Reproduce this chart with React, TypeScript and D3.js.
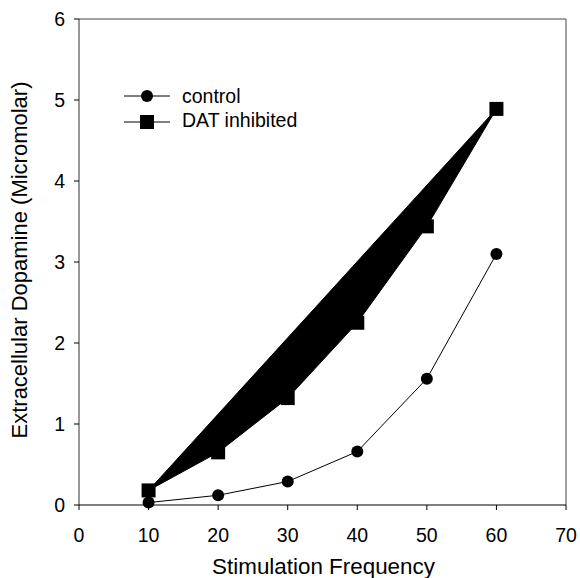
import React from "react";
import * as d3 from "d3";

const frequencies = [10, 20, 30, 40, 50, 60];
const controlValues = [0.03, 0.12, 0.29, 0.66, 1.56, 3.1];
const datValues = [0.18, 0.65, 1.32, 2.25, 3.44, 4.89];
const xTicks = [0, 10, 20, 30, 40, 50, 60, 70];
const yTicks = [0, 1, 2, 3, 4, 5, 6];
const seriesNames = ["control", "DAT inhibited"];

export default function App() {
  const W = 580, H = 578;
  const left = 79, right = 566, top = 19, bottom = 505;
  const x = d3.scaleLinear().domain([0, 70]).range([left, right]);
  const y = d3.scaleLinear().domain([0, 6]).range([bottom, top]);
  const font = "Liberation Sans, Arial, sans-serif";

  const ctrl = frequencies.map((f, i) => [f, controlValues[i]] as [number, number]);
  const dat = frequencies.map((f, i) => [f, datValues[i]] as [number, number]);
  const line = d3.line<[number, number]>().x(d => x(d[0])).y(d => y(d[1]));
  const datPoly = line(dat) + "Z";

  return (
    <svg width={W} height={H} style={{ position: "absolute", left: 0, top: 0, background: "#fff" }}>
      {/* frame */}
      <line x1={left} y1={top} x2={right} y2={top} stroke="#444" strokeWidth={1} />
      <line x1={right} y1={top} x2={right} y2={bottom} stroke="#444" strokeWidth={1} />
      <line x1={left} y1={top} x2={left} y2={bottom} stroke="#333" strokeWidth={1} />
      <line x1={left} y1={bottom} x2={right} y2={bottom} stroke="#000" strokeWidth={1} />
      {/* y ticks */}
      {yTicks.map(t => (
        <g key={"y" + t}>
          <line x1={left - 5} x2={left} y1={y(t)} y2={y(t)} stroke="#000" />
          <text x={65} y={y(t)} dy="0.36em" textAnchor="end" fontFamily={font} fontSize={19.5}>{t}</text>
        </g>
      ))}
      {/* x ticks */}
      {xTicks.map(t => (
        <g key={"x" + t}>
          <line x1={x(t)} x2={x(t)} y1={bottom} y2={bottom + 5} stroke="#000" />
          <text x={x(t)} y={542} textAnchor="middle" fontFamily={font} fontSize={19.5}>{t}</text>
        </g>
      ))}
      <text x={323.5} y={574} textAnchor="middle" fontFamily={font} fontSize={22.4}>Stimulation Frequency</text>
      <text transform={`translate(27,260) rotate(-90)`} textAnchor="middle" fontFamily={font} fontSize={22}>Extracellular Dopamine (Micromolar)</text>

      {/* DAT inhibited: filled polygon */}
      <path d={datPoly} fill="#000" stroke="#000" strokeWidth={1} />
      {dat.map((d, i) => (
        <rect key={"s" + i} x={x(d[0]) - 7} y={y(d[1]) - 7} width={14} height={14} fill="#000" />
      ))}
      {/* control */}
      <path d={line(ctrl) || ""} fill="none" stroke="#000" strokeWidth={1} />
      {ctrl.map((d, i) => (
        <circle key={"c" + i} cx={x(d[0])} cy={y(d[1])} r={6} fill="#000" />
      ))}

      {/* legend */}
      <line x1={124} x2={170} y1={96} y2={96} stroke="#000" />
      <circle cx={147} cy={96} r={6} fill="#000" />
      <text x={182} y={103} fontFamily={font} fontSize={19.5}>{seriesNames[0]}</text>
      <line x1={124} x2={170} y1={122} y2={122} stroke="#000" />
      <rect x={140} y={115} width={14} height={14} fill="#000" />
      <text x={182} y={127} fontFamily={font} fontSize={19.5}>{seriesNames[1]}</text>
    </svg>
  );
}
